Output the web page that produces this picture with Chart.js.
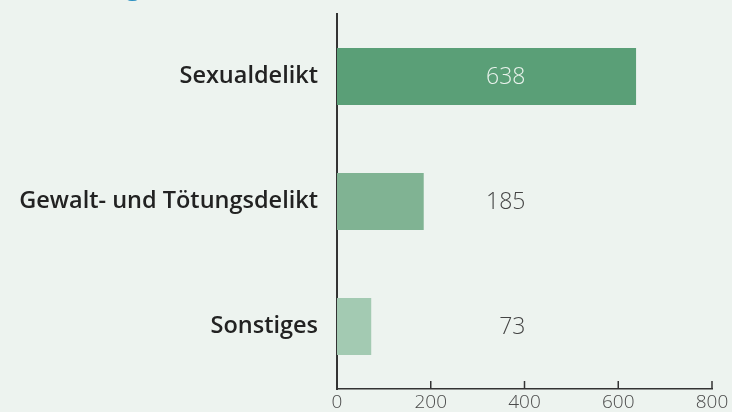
<!DOCTYPE html>
<html>
<head>
<meta charset="utf-8">
<script src="https://cdn.jsdelivr.net/npm/chart.js@4"></script>
<style>
  html, body { margin:0; padding:0; background:#edf3ef; }
  #wrap { width:732px; height:412px; position:relative; }
</style>
</head>
<body>
<div id="wrap"><canvas id="c"></canvas></div>
<script>
// chart data
const categories = ["Sexualdelikt", "Gewalt- und Tötungsdelikt", "Sonstiges"];
const values = [638, 185, 73];
const barColors = ["#5a9f77", "#80b393", "#a3cab2"];
const labelColors = ["#e9f2ec", "#444444", "#444444"];
const xTicks = [0, 200, 400, 600, 800];

const FONT = "'Open Sans', 'Noto Sans', sans-serif";

// value labels, right aligned on a fixed column
const valueLabels = {
  id: "valueLabels",
  afterDatasetsDraw(chart) {
    const ctx = chart.ctx, x = chart.scales.x, meta = chart.getDatasetMeta(0);
    const right = x.getPixelForValue(400) + 1;
    ctx.save();
    ctx.font = "300 23px " + FONT;
    ctx.textAlign = "right"; ctx.textBaseline = "middle";
    meta.data.forEach((bar, i) => {
      ctx.fillStyle = labelColors[i];
      ctx.fillText(String(values[i]), right, bar.y + 1);
    });
    ctx.restore();
  }
};

// inward tick marks on both axes + clipped title fragment
const innerTicks = {
  id: "innerTicks",
  beforeDatasetsDraw(chart) {
    const ctx = chart.ctx, x = chart.scales.x, y = chart.scales.y;
    ctx.save();
    ctx.strokeStyle = "#444"; ctx.lineWidth = 1.5;
    categories.forEach((c, i) => {
      const py = y.getPixelForTick(i);
      ctx.beginPath(); ctx.moveTo(x.left, py); ctx.lineTo(x.left + 9, py); ctx.stroke();
    });
    ctx.restore();
  },
  afterDraw(chart) {
    const ctx = chart.ctx, x = chart.scales.x, y = chart.scales.y;
    ctx.save();
    ctx.strokeStyle = "#333"; ctx.lineWidth = 1.5;
    xTicks.forEach(v => {
      const px = x.getPixelForValue(v);
      ctx.beginPath(); ctx.moveTo(px, y.bottom); ctx.lineTo(px, y.bottom - 8); ctx.stroke();
    });
    // title is cut off at the top edge, only the descender shows
    ctx.fillStyle = "#2a8fc1";
    ctx.font = "28px " + FONT;
    ctx.textAlign = "center"; ctx.textBaseline = "alphabetic";
    ctx.fillText("g", 133, -6);
    ctx.restore();
  }
};

new Chart(document.getElementById("c"), {
  type: "bar",
  data: {
    labels: categories,
    datasets: [{ data: values, backgroundColor: barColors, borderWidth: 0,
                 barPercentage: 0.456, categoryPercentage: 1 }]
  },
  options: {
    indexAxis: "y",
    responsive: true,
    maintainAspectRatio: false,
    animation: false,
    layout: { padding: { top: 14, right: 20, left: 0, bottom: 0 } },
    plugins: { legend: { display: false }, tooltip: { enabled: false } },
    scales: {
      x: {
        min: 0, max: 800,
        afterBuildTicks: s => { s.ticks = xTicks.map(v => ({ value: v })); },
        afterFit: s => { s.height = 23; s.paddingLeft = 0; s.paddingRight = 0; },
        grid: { display: false, drawTicks: false },
        border: { color: "#333", width: 1.5 },
        ticks: { color: "#4a4a4a", padding: 2, font: { family: FONT, size: 19, weight: "300" } }
      },
      y: {
        afterFit: s => { s.width = 337; s.paddingTop = 0; s.paddingBottom = 0; },
        grid: { display: false, drawTicks: false },
        border: { color: "#333", width: 2 },
        ticks: { color: "#222", padding: 19, font: { family: FONT, size: 23.5, weight: "600" } }
      }
    }
  },
  plugins: [valueLabels, innerTicks]
});
</script>
</body>
</html>
